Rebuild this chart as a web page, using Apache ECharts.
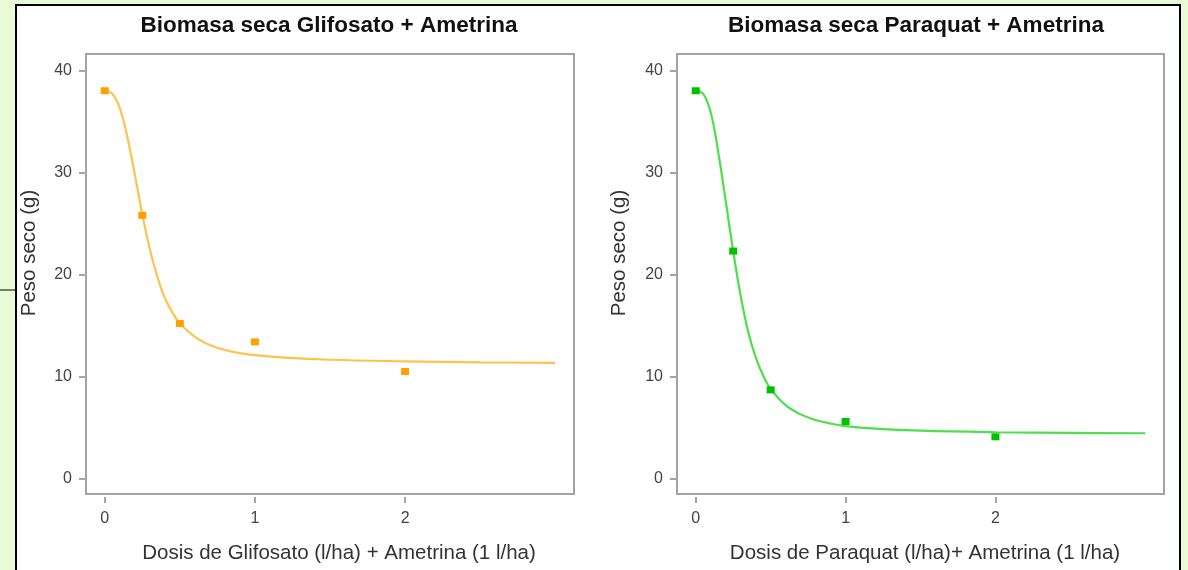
<!DOCTYPE html>
<html>
<head>
<meta charset="utf-8">
<script src="https://cdn.jsdelivr.net/npm/echarts@6/dist/echarts.min.js"></script>
<style>
  html, body { margin: 0; padding: 0; background: #e8fbd6; }
  #chart { width: 1188px; height: 570px; }
</style>
</head>
<body>
<div id="chart"></div>
<script>
// measured doses and dry weight
const doses = [0, 0.25, 0.5, 1, 2]
const glifosatoPoints = [38.0, 25.8, 15.2, 13.4, 10.5]
const paraquatPoints = [38.0, 22.3, 8.7, 5.6, 4.1]

// fitted curves
const glifosatoCurveX = [0, 0.05, 0.1, 0.15, 0.2, 0.25, 0.3, 0.35, 0.4, 0.45, 0.5, 0.6, 0.7, 0.8, 0.9, 1.0, 1.2, 1.5, 2, 2.5, 3]
const glifosatoCurveY = [38.0, 37.7, 36.3, 33.5, 29.8, 25.9, 22.5, 19.8, 17.7, 16.3, 15.2, 13.9, 13.1, 12.6, 12.3, 12.1, 11.85, 11.65, 11.5, 11.4, 11.35]
const paraquatCurveX = [0, 0.05, 0.1, 0.15, 0.2, 0.25, 0.3, 0.35, 0.4, 0.45, 0.5, 0.6, 0.7, 0.8, 0.9, 1.0, 1.2, 1.5, 2, 2.5, 3]
const paraquatCurveY = [38.0, 37.7, 35.9, 32.0, 27.2, 22.3, 17.9, 14.4, 11.9, 10.1, 8.8, 7.2, 6.3, 5.75, 5.4, 5.15, 4.9, 4.7, 4.55, 4.48, 4.45]

const xTicks = [0, 1, 2]
const yTicks = [0, 10, 20, 30, 40]

const font = 'Liberation Sans, Arial, sans-serif'
const pair = (xs, ys) => xs.map((x, i) => [x, ys[i]])

function xAxis(gridIndex) {
  return {
    gridIndex,
    type: 'value',
    position: 'bottom',
    min: -0.125,
    max: 3.125,
    offset: 3,
    splitLine: { show: false },
    axisLine: { show: false, onZero: false },
    axisTick: { show: true, customValues: xTicks, length: 6, lineStyle: { color: '#888', width: 1.5 } },
    axisLabel: { customValues: xTicks, color: '#444', fontSize: 16, fontFamily: font, margin: 14 },
  }
}

function yAxis(gridIndex) {
  return {
    gridIndex,
    type: 'value',
    position: 'left',
    min: -1.5,
    max: 41.6,
    offset: 1,
    splitLine: { show: false },
    axisLine: { show: false, onZero: false },
    axisTick: { show: true, customValues: yTicks, length: 6, lineStyle: { color: '#888', width: 1.5 } },
    axisLabel: { customValues: yTicks, color: '#444', fontSize: 16, fontFamily: font, margin: 13 },
  }
}

function label(text, x, y, rotate) {
  return {
    type: 'text',
    x,
    y,
    rotation: rotate ? Math.PI / 2 : 0,
    style: {
      text,
      fill: '#333',
      font: '20.5px ' + font,
      textAlign: 'center',
      textVerticalAlign: 'middle',
    },
  }
}

const titleStyle = { fontSize: 22.5, fontWeight: 'bold', color: '#111', fontFamily: font }

const chart = echarts.init(document.getElementById('chart'))
chart.setOption({
  animation: false,
  backgroundColor: '#e8fbd6',
  title: [
    { text: 'Biomasa seca Glifosato + Ametrina', left: 324, top: 9, textAlign: 'center', textStyle: titleStyle },
    { text: 'Biomasa seca Paraquat + Ametrina', left: 911, top: 9, textAlign: 'center', textStyle: titleStyle },
  ],
  grid: [
    { left: 86, top: 54, width: 488, height: 440, show: true, borderColor: '#a3a3a3', borderWidth: 2, backgroundColor: '#fff' },
    { left: 677, top: 54, width: 487, height: 440, show: true, borderColor: '#a3a3a3', borderWidth: 2, backgroundColor: '#fff' },
  ],
  xAxis: [xAxis(0), xAxis(1)],
  yAxis: [yAxis(0), yAxis(1)],
  graphic: [
    {
      type: 'rect', z: -10,
      shape: { x: 16, y: 5, width: 1164, height: 580 },
      style: { fill: '#fff', stroke: '#000', lineWidth: 2 },
    },
    {
      type: 'line', z: -9,
      shape: { x1: 0, y1: 290, x2: 16, y2: 290 },
      style: { stroke: '#000', lineWidth: 1 },
    },
    label('Peso seco (g)', 29, 253, true),
    label('Peso seco (g)', 619, 253, true),
    label('Dosis de Glifosato (l/ha) + Ametrina (1 l/ha)', 339, 553, false),
    label('Dosis de Paraquat (l/ha)+ Ametrina (1 l/ha)', 925, 553, false),
  ],
  series: [
    {
      type: 'line', xAxisIndex: 0, yAxisIndex: 0, z: 2,
      data: pair(glifosatoCurveX, glifosatoCurveY),
      smooth: 0.4, showSymbol: false,
      lineStyle: { color: '#ffc34d', width: 2.2 },
    },
    {
      type: 'scatter', xAxisIndex: 0, yAxisIndex: 0, z: 5,
      data: pair(doses, glifosatoPoints),
      symbol: 'rect', symbolSize: [8, 7],
      itemStyle: { color: '#ffa000', opacity: 1 },
    },
    {
      type: 'line', xAxisIndex: 1, yAxisIndex: 1, z: 2,
      data: pair(paraquatCurveX, paraquatCurveY),
      smooth: 0.4, showSymbol: false,
      lineStyle: { color: '#4ddf4d', width: 2.2 },
    },
    {
      type: 'scatter', xAxisIndex: 1, yAxisIndex: 1, z: 5,
      data: pair(doses, paraquatPoints),
      symbol: 'rect', symbolSize: [8, 7],
      itemStyle: { color: '#00c000', opacity: 1 },
    },
  ],
})
</script>
</body>
</html>
